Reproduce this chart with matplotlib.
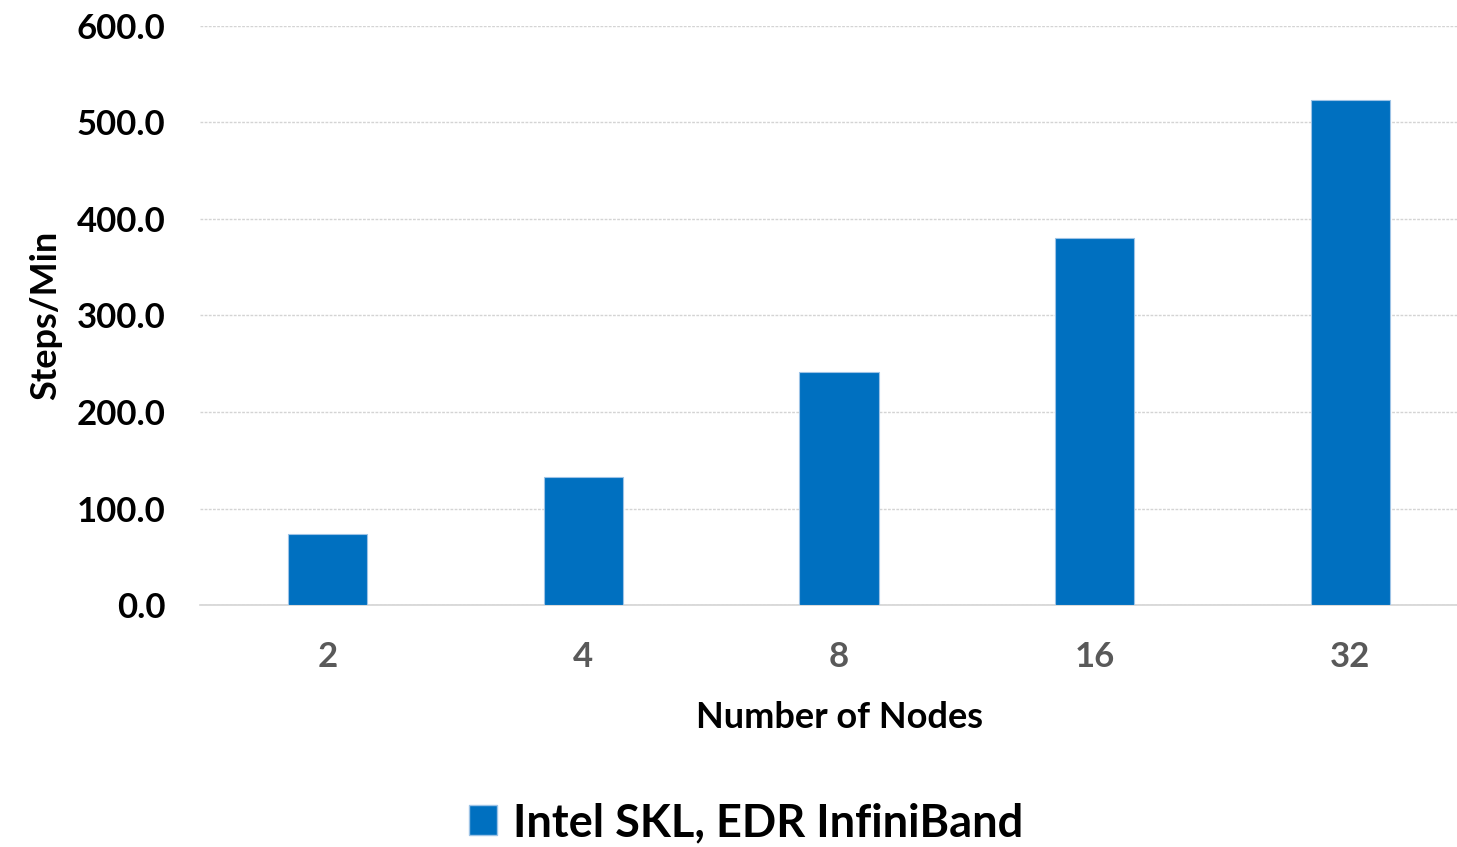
import matplotlib.pyplot as plt
from matplotlib.patches import Patch

nodes = ["2", "4", "8", "16", "32"]
steps_per_min = [73.5, 132.5, 241.5, 380.5, 523.8]
series_name = "Intel SKL, EDR InfiniBand"

plt.rcParams['font.family'] = ['Lato', 'DejaVu Sans']
plt.rcParams['font.weight'] = 'bold'

fig = plt.figure(figsize=(14.57, 8.47), dpi=100)
ax = fig.add_axes([200 / 1457, 1 - 605 / 847, 1278 / 1457, 579 / 847])

x = range(len(nodes))
ax.bar(x, steps_per_min, width=0.31, color='#0070c0', edgecolor='#9dc3e6',
       linewidth=0.8, zorder=3)

ax.set_xlim(-0.5, len(nodes) - 0.5)
ax.set_ylim(0, 600)
ax.set_yticks(range(0, 601, 100))
ax.set_yticklabels(["{0:.1f}".format(v) for v in range(0, 601, 100)],
                   fontsize=25, fontweight='bold', color='black')
ax.set_xticks(list(x))
ax.set_xticklabels(nodes, fontsize=25, fontweight='bold', color='#595959')
ax.tick_params(axis='y', length=0, pad=25)
ax.tick_params(axis='x', length=0, pad=26)

ax.grid(axis='y', color='#d4d4d4', linewidth=1.0, linestyle=(0, (2, 1)), zorder=0)
for side in ['top', 'right', 'left']:
    ax.spines[side].set_visible(False)
ax.spines['bottom'].set_color('#d4d4d4')
ax.spines['bottom'].set_linewidth(1.2)

ax.set_ylabel("Steps/Min", fontsize=26, fontweight='bold', labelpad=10)
ax.set_xlabel("Number of Nodes", fontsize=26, fontweight='bold', labelpad=20)

handles = [Patch(facecolor='#0070c0', edgecolor='#9dc3e6', label=series_name)]
fig.legend(handles=handles, loc='center', bbox_to_anchor=(746 / 1457, 1 - 823 / 847),
           frameon=False, prop={'family': 'Lato', 'weight': 'bold', 'size': 32.5},
           handlelength=0.62, handleheight=0.62, handletextpad=0.35)

fig.savefig("out.png", dpi=100)
